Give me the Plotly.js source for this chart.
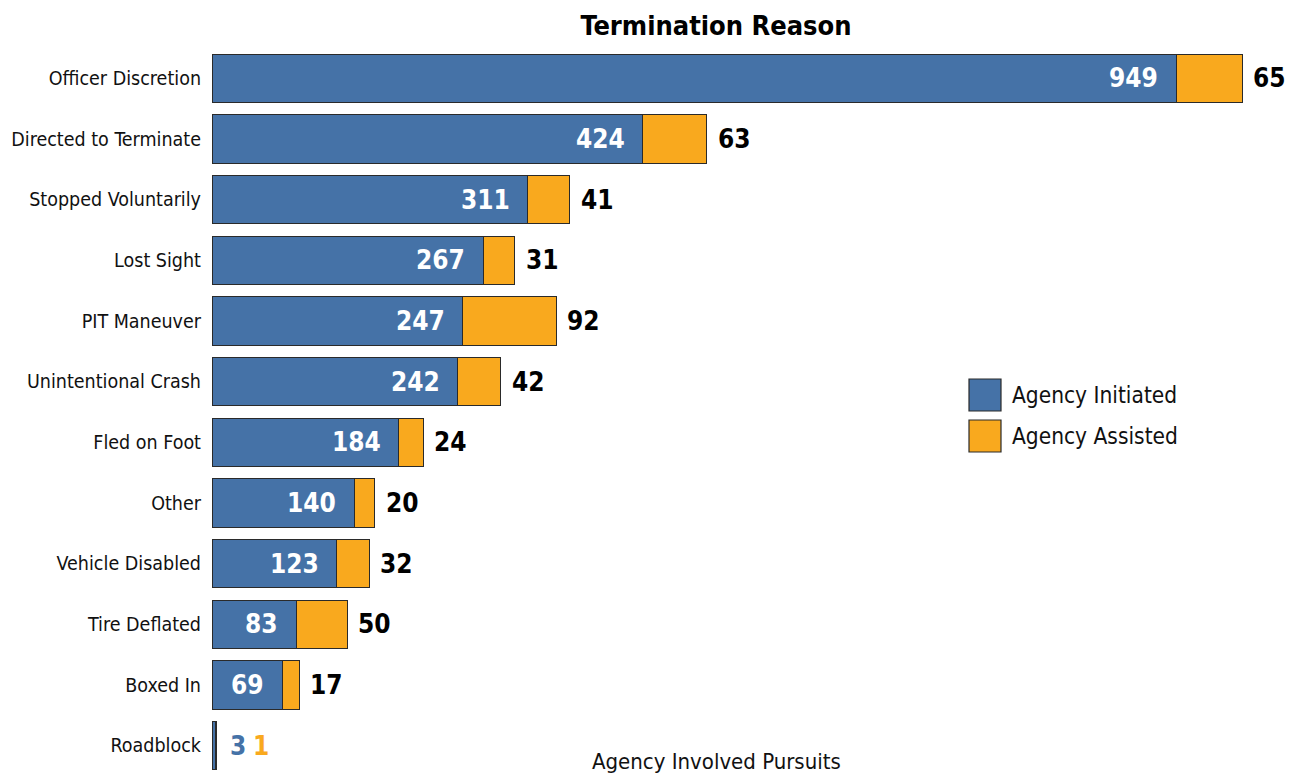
<!DOCTYPE html>
<html><head><meta charset="utf-8">
<script src="https://cdn.plot.ly/plotly-3.0.1.min.js"></script>
<style>html,body{margin:0;padding:0;background:#fff}#chart{width:1291px;height:776px}
svg text{font-stretch:condensed !important;}</style>
</head><body><div id="chart"></div>
<script>
const categories = ["Officer Discretion","Directed to Terminate","Stopped Voluntarily","Lost Sight","PIT Maneuver","Unintentional Crash","Fled on Foot","Other","Vehicle Disabled","Tire Deflated","Boxed In","Roadblock"];
const initiated = [949,424,311,267,247,242,184,140,123,83,69,3];
const assisted  = [65,63,41,31,92,42,24,20,32,50,17,1];
const seriesNames = ["Agency Initiated","Agency Assisted"];
const BLUE = "#4572a7", ORANGE = "#f9a91e";
const FONT = "'DejaVu Sans Condensed', 'DejaVu Sans', sans-serif";

const traces = [
  {type:'bar', orientation:'h', y:categories, x:initiated, name:seriesNames[0],
   marker:{color:BLUE, line:{color:'#2a2a2a', width:1}}, hoverinfo:'x+y', showlegend:false},
  {type:'bar', orientation:'h', y:categories, x:assisted, name:seriesNames[1],
   marker:{color:ORANGE, line:{color:'#2a2a2a', width:1}}, hoverinfo:'x+y', showlegend:false}
];

const annotations = [];
categories.forEach((c,i)=>{
  const total = initiated[i]+assisted[i];
  if (initiated[i] >= 20) {
    annotations.push({x:initiated[i], y:c, xref:'x', yref:'y', text:'<b>'+initiated[i]+'</b>',
      showarrow:false, xanchor:'right', xshift:-16, font:{family:FONT, size:26, color:'#ffffff'}});
    annotations.push({x:total, y:c, xref:'x', yref:'y', text:'<b>'+assisted[i]+'</b>',
      showarrow:false, xanchor:'left', xshift:9, font:{family:FONT, size:26, color:'#000000'}});
  } else {
    annotations.push({x:total, y:c, xref:'x', yref:'y', text:'<b>'+initiated[i]+'</b>',
      showarrow:false, xanchor:'left', xshift:12, font:{family:FONT, size:26, color:BLUE}});
    annotations.push({x:total, y:c, xref:'x', yref:'y', text:'<b>'+assisted[i]+'</b>',
      showarrow:false, xanchor:'left', xshift:35, font:{family:FONT, size:26, color:ORANGE}});
  }
});
// x-axis title
annotations.push({xref:'paper', yref:'paper', x:0.468, y:0, yanchor:'middle', yshift:15,
  text:'Agency Involved Pursuits', showarrow:false, font:{family:FONT, size:22, color:'#111'}});
// legend
const W=1079, H=728, L=212, T=48;
const px = v => (v-L)/W, py = v => (T+H-v)/H;
const legendItems = [{name:seriesNames[0], color:BLUE, top:379},{name:seriesNames[1], color:ORANGE, top:420}];
const shapes = [];
legendItems.forEach(it=>{
  shapes.push({type:'rect', xref:'paper', yref:'paper', x0:px(969), x1:px(1001), y0:py(it.top), y1:py(it.top+32),
    fillcolor:it.color, line:{color:'#2a2a2a', width:1.2}});
  annotations.push({xref:'paper', yref:'paper', x:px(1010), y:py(it.top+16), xanchor:'left', yanchor:'middle',
    text:it.name, showarrow:false, font:{family:FONT, size:22.5, color:'#111'}});
});

const layout = {
  width:1291, height:776,
  margin:{l:L, r:0, t:T, b:0},
  barmode:'stack', bargap:0.2,
  paper_bgcolor:'#fff', plot_bgcolor:'#fff',
  title:{text:'<b>Termination Reason</b>', xref:'container', x:0.5546, xanchor:'center', yref:'container', y:0.967, yanchor:'middle',
    font:{family:FONT, size:27, color:'#000'}},
  xaxis:{range:[0,1062], visible:false, fixedrange:true},
  yaxis:{autorange:'reversed', showgrid:false, zeroline:false, showline:false, ticks:'', ticklabelstandoff:10,
    tickfont:{family:FONT, size:19.5, color:'#111'}, fixedrange:true},
  showlegend:false,
  annotations:annotations, shapes:shapes,
  font:{family:FONT}
};
Plotly.newPlot('chart', traces, layout, {displayModeBar:false, staticPlot:true});
</script></body></html>
